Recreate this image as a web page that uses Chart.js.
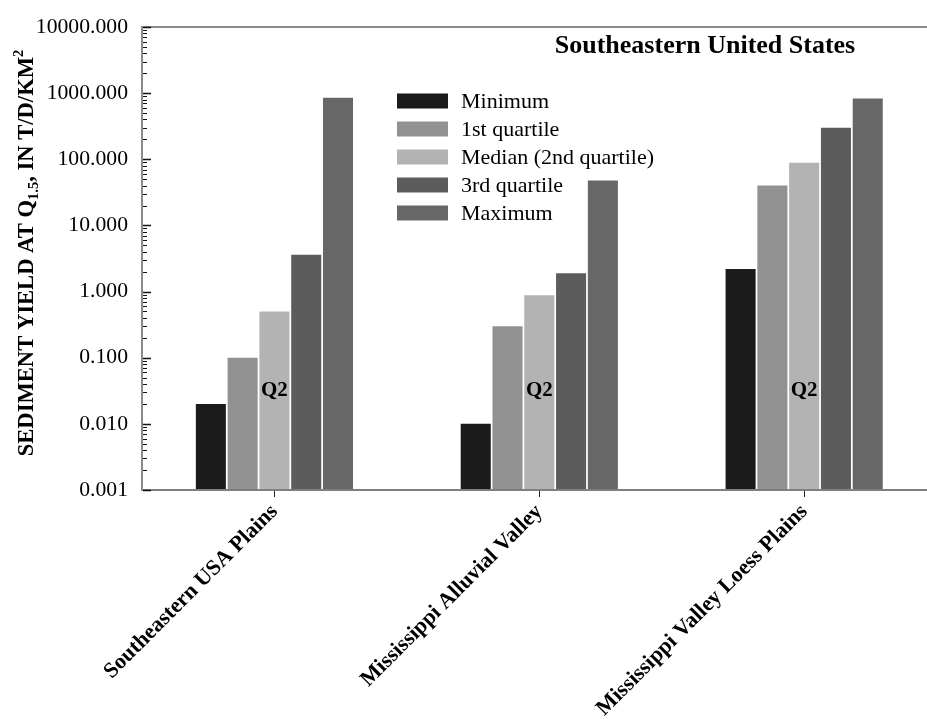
<!DOCTYPE html>
<html>
<head>
<meta charset="utf-8">
<script src="https://cdn.jsdelivr.net/npm/chart.js@4.4.1/dist/chart.umd.min.js"></script>
<style>
  html, body { margin: 0; padding: 0; background: #fff; }
  #wrap { width: 927px; height: 719px; position: relative; }
</style>
</head>
<body>
<div id="wrap"><canvas id="c"></canvas></div>
<script>
// Sediment yield statistics by ecoregion (T/D/KM² at Q1.5)
const categories = ['Southeastern USA Plains', 'Mississippi Alluvial Valley', 'Mississippi Valley Loess Plains'];
const minimum       = [0.02, 0.01, 2.2];
const firstQuartile = [0.1, 0.3, 40];
const median        = [0.5, 0.88, 89];
const thirdQuartile = [3.6, 1.9, 300];
const maximum       = [850, 48, 830];
const yTickValues   = [0.001, 0.01, 0.1, 1, 10, 100, 1000, 10000];

const seriesNames  = ['Minimum', '1st quartile', 'Median (2nd quartile)', '3rd quartile', 'Maximum'];
const seriesValues = [minimum, firstQuartile, median, thirdQuartile, maximum];
const seriesColors = ['#1b1b1b', '#919191', '#b3b3b3', '#5c5c5c', '#676767'];

const SERIF = '"Liberation Serif", "Times New Roman", serif';

const datasets = seriesNames.map((name, s) => ({
  label: name,
  data: seriesValues[s].map((v, i) => ({ x: i + 1, y: v })),
  backgroundColor: seriesColors[s],
  borderWidth: 0,
  categoryPercentage: 0.6,
  barPercentage: 0.945
}));

// Top frame line and inward major/minor ticks on the logarithmic axis
const logTicksPlugin = {
  id: 'logTicks',
  afterDraw(chart) {
    const y = chart.scales.y;
    const { left, right, top } = chart.chartArea;
    const ctx = chart.ctx;
    ctx.save();
    ctx.strokeStyle = '#8a8a8a';
    ctx.lineWidth = 2;
    ctx.beginPath();
    ctx.moveTo(left - 1, top);
    ctx.lineTo(right + 1, top);
    ctx.stroke();

    ctx.strokeStyle = '#111';
    for (let d = 0.001; d < 10000 * 1.01; d *= 10) {
      for (let m = 1; m <= 9; m++) {
        const v = m * d;
        if (v > 10000 * 1.001) break;
        const py = Math.round(y.getPixelForValue(v)) + 0.5;
        const major = m === 1;
        ctx.lineWidth = major ? 1.5 : 1;
        ctx.beginPath();
        ctx.moveTo(left + 1, py);
        ctx.lineTo(left + (major ? 9 : 5), py);
        ctx.stroke();
      }
    }
    ctx.restore();
  }
};

// Title, legend box, Q2 markers and the y-axis title with sub/superscripts
const decorPlugin = {
  id: 'decor',
  afterDatasetsDraw(chart) {
    const ctx = chart.ctx;
    const yScale = chart.scales.y;
    ctx.save();

    // Q2 marker over each median bar
    const medMeta = chart.getDatasetMeta(2);
    ctx.font = 'bold 21px ' + SERIF;
    ctx.fillStyle = '#000';
    ctx.textAlign = 'center';
    ctx.textBaseline = 'alphabetic';
    const qy = yScale.getPixelForValue(0.026);
    medMeta.data.forEach(bar => ctx.fillText('Q2', bar.x, qy));

    // Chart title
    ctx.font = 'bold 26px ' + SERIF;
    ctx.textAlign = 'center';
    ctx.fillText('Southeastern United States', 705, 53);

    // Legend
    ctx.font = '22px ' + SERIF;
    ctx.textAlign = 'left';
    ctx.textBaseline = 'middle';
    chart.data.datasets.forEach((ds, i) => {
      const cy = 101 + i * 28;
      ctx.fillStyle = ds.backgroundColor;
      ctx.fillRect(397, cy - 7.5, 51, 15);
      ctx.fillStyle = '#000';
      ctx.fillText(ds.label, 461, cy + 1);
    });

    // Y-axis title
    const parts = [
      { t: 'SEDIMENT YIELD AT Q', size: 22.6, dy: 0 },
      { t: '1.5', size: 14.5, dy: 5 },
      { t: ', IN T/D/KM', size: 22.6, dy: 0 },
      { t: '2', size: 14.5, dy: -10 }
    ];
    let total = 0;
    parts.forEach(p => {
      ctx.font = 'bold ' + p.size + 'px ' + SERIF;
      p.w = ctx.measureText(p.t).width;
      total += p.w;
    });
    ctx.translate(33, 253);
    ctx.rotate(-Math.PI / 2);
    ctx.textAlign = 'left';
    ctx.textBaseline = 'alphabetic';
    ctx.fillStyle = '#000';
    let x = -total / 2;
    parts.forEach(p => {
      ctx.font = 'bold ' + p.size + 'px ' + SERIF;
      ctx.fillText(p.t, x, p.dy);
      x += p.w;
    });
    ctx.restore();
  }
};

new Chart(document.getElementById('c'), {
  type: 'bar',
  data: { datasets },
  options: {
    responsive: true,
    maintainAspectRatio: false,
    animation: false,
    devicePixelRatio: 1,
    layout: { padding: { top: 17, right: 1, left: 0, bottom: 0 } },
    plugins: {
      legend: { display: false },
      tooltip: { enabled: false },
      title: { display: false }
    },
    scales: {
      x: {
        type: 'linear',
        offset: false,
        min: 0.5,
        max: 3.46,
        afterBuildTicks: s => { s.ticks = categories.map((c, i) => ({ value: i + 1 })); },
        afterFit: s => { s.height = 229; },
        grid: { display: true, offset: false, drawOnChartArea: false, drawTicks: true, tickLength: 7, tickColor: '#222', tickWidth: 1 },
        border: { display: true, color: '#7f7f7f', width: 2, z: 1 },
        ticks: {
          autoSkip: false,
          minRotation: 45,
          maxRotation: 45,
          padding: 2,
          color: '#000',
          font: { family: SERIF, size: 22, weight: 'bold' },
          callback: (v, i) => categories[i]
        }
      },
      y: {
        type: 'logarithmic',
        min: 0.001,
        max: 10000,
        afterBuildTicks: s => { s.ticks = yTickValues.map(v => ({ value: v, major: true })); },
        afterFit: s => { s.width = 142; },
        grid: { display: false, drawTicks: false },
        border: { display: true, color: '#8a8a8a', width: 2, z: 1 },
        ticks: {
          padding: 14,
          color: '#000',
          font: { family: SERIF, size: 21.7 },
          callback: v => Number(v).toFixed(3)
        }
      }
    }
  },
  plugins: [logTicksPlugin, decorPlugin]
});
</script>
</body>
</html>
